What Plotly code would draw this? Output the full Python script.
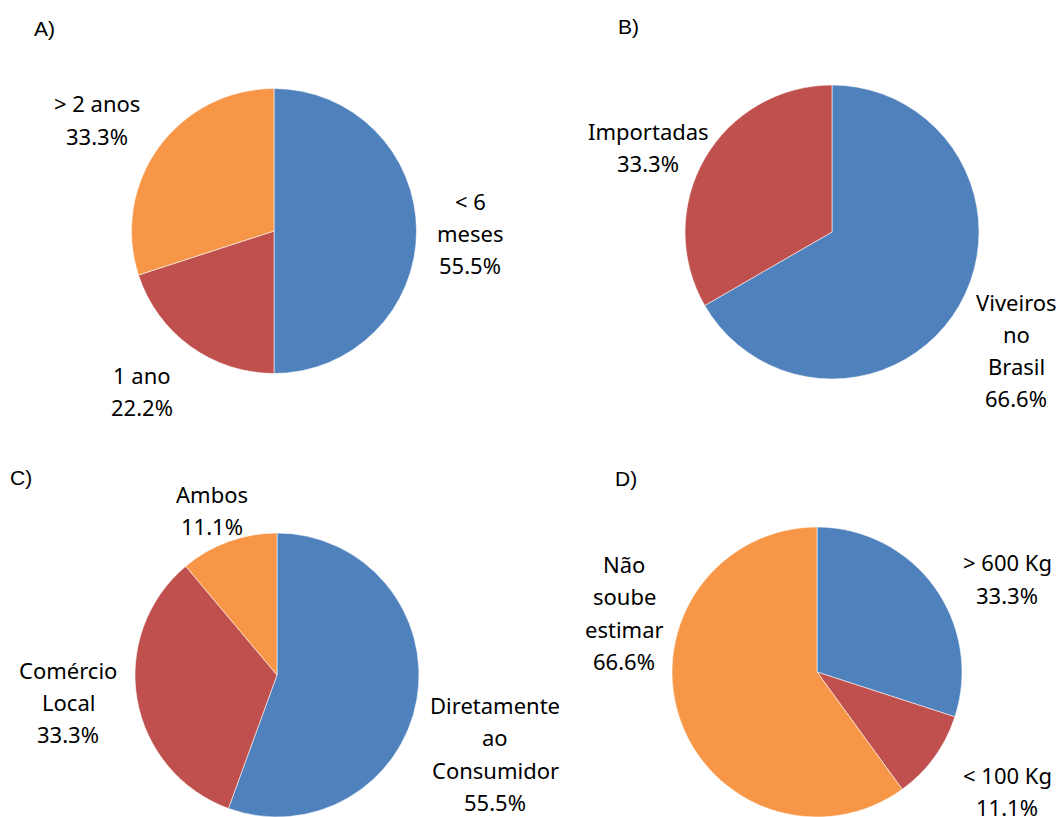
import plotly.graph_objects as go

# Panel A: time in business
a_labels = ["< 6\nmeses", "1 ano", "> 2 anos"]
a_values = [55.5, 22.2, 33.3]

# Panel B: origin of seedlings
b_labels = ["Viveiros\nno\nBrasil", "Importadas"]
b_values = [66.6, 33.3]

# Panel C: sales channel
c_labels = ["Diretamente\nao\nConsumidor", "Comércio\nLocal", "Ambos"]
c_values = [55.5, 33.3, 11.1]

# Panel D: estimated production
d_labels = ["> 600 Kg", "< 100 Kg", "Não\nsoube\nestimar"]
d_values = [33.3, 11.1, 66.6]

panel_titles = ["A)", "B)", "C)", "D)"]
colors = ["#4F81BD", "#C0504D", "#F79646"]

W, H = 1060, 817
LINE_GAP = 32.3  # px between label lines

# pie placement in pixels: (center x, center y, radius)
pie_geom = [(274, 231, 142.5), (832, 232, 147), (277, 675, 142), (817, 672, 145)]

# label block centers in pixels, one per slice
label_pos = [
    [(470, 233), (142, 391), (97, 119.5)],
    [(1016, 350), (648, 147)],
    [(495, 753.5), (68, 702), (212, 510)],
    [(1007, 578.5), (1007, 791), (624, 612.5)],
]
title_pos = [(44, 28), (628, 27), (21, 477), (626, 478)]

panels = [(a_labels, a_values), (b_labels, b_values),
          (c_labels, c_values), (d_labels, d_values)]

fig = go.Figure()
annotations = []
for (labels, values), (cx, cy, r), lpos, tpos, title in zip(
        panels, pie_geom, label_pos, title_pos, panel_titles):
    fig.add_trace(go.Pie(
        labels=[l.replace("\n", " ") for l in labels],
        values=values,
        sort=False,
        direction="clockwise",
        rotation=0,
        textinfo="none",
        hoverinfo="label+value",
        marker=dict(colors=colors[:len(values)],
                    line=dict(color="rgba(255,255,255,0.8)", width=0.7)),
        domain=dict(x=[(cx - r) / W, (cx + r) / W],
                    y=[1 - (cy + r) / H, 1 - (cy - r) / H]),
        showlegend=False,
    ))
    # each slice label: category lines followed by the percentage
    for lab, val, (px, py) in zip(labels, values, lpos):
        lines = lab.split("\n") + [f"{val:.1f}%"]
        n = len(lines)
        for i, line in enumerate(lines):
            ly = py + (i - (n - 1) / 2) * LINE_GAP
            annotations.append(dict(
                text=line,
                x=px / W, y=1 - ly / H, xref="paper", yref="paper",
                xanchor="center", yanchor="middle", showarrow=False,
                font=dict(family="Noto Sans", size=22, color="#000000"),
            ))
    annotations.append(dict(
        text=title, x=tpos[0] / W, y=1 - tpos[1] / H,
        xref="paper", yref="paper", xanchor="center", yanchor="middle",
        showarrow=False,
        font=dict(family="Liberation Sans", size=21, color="#000000"),
    ))

fig.update_layout(
    width=W, height=H,
    margin=dict(l=0, r=0, t=0, b=0),
    paper_bgcolor="white", plot_bgcolor="white",
    annotations=annotations,
)

fig.write_html("out.html")
